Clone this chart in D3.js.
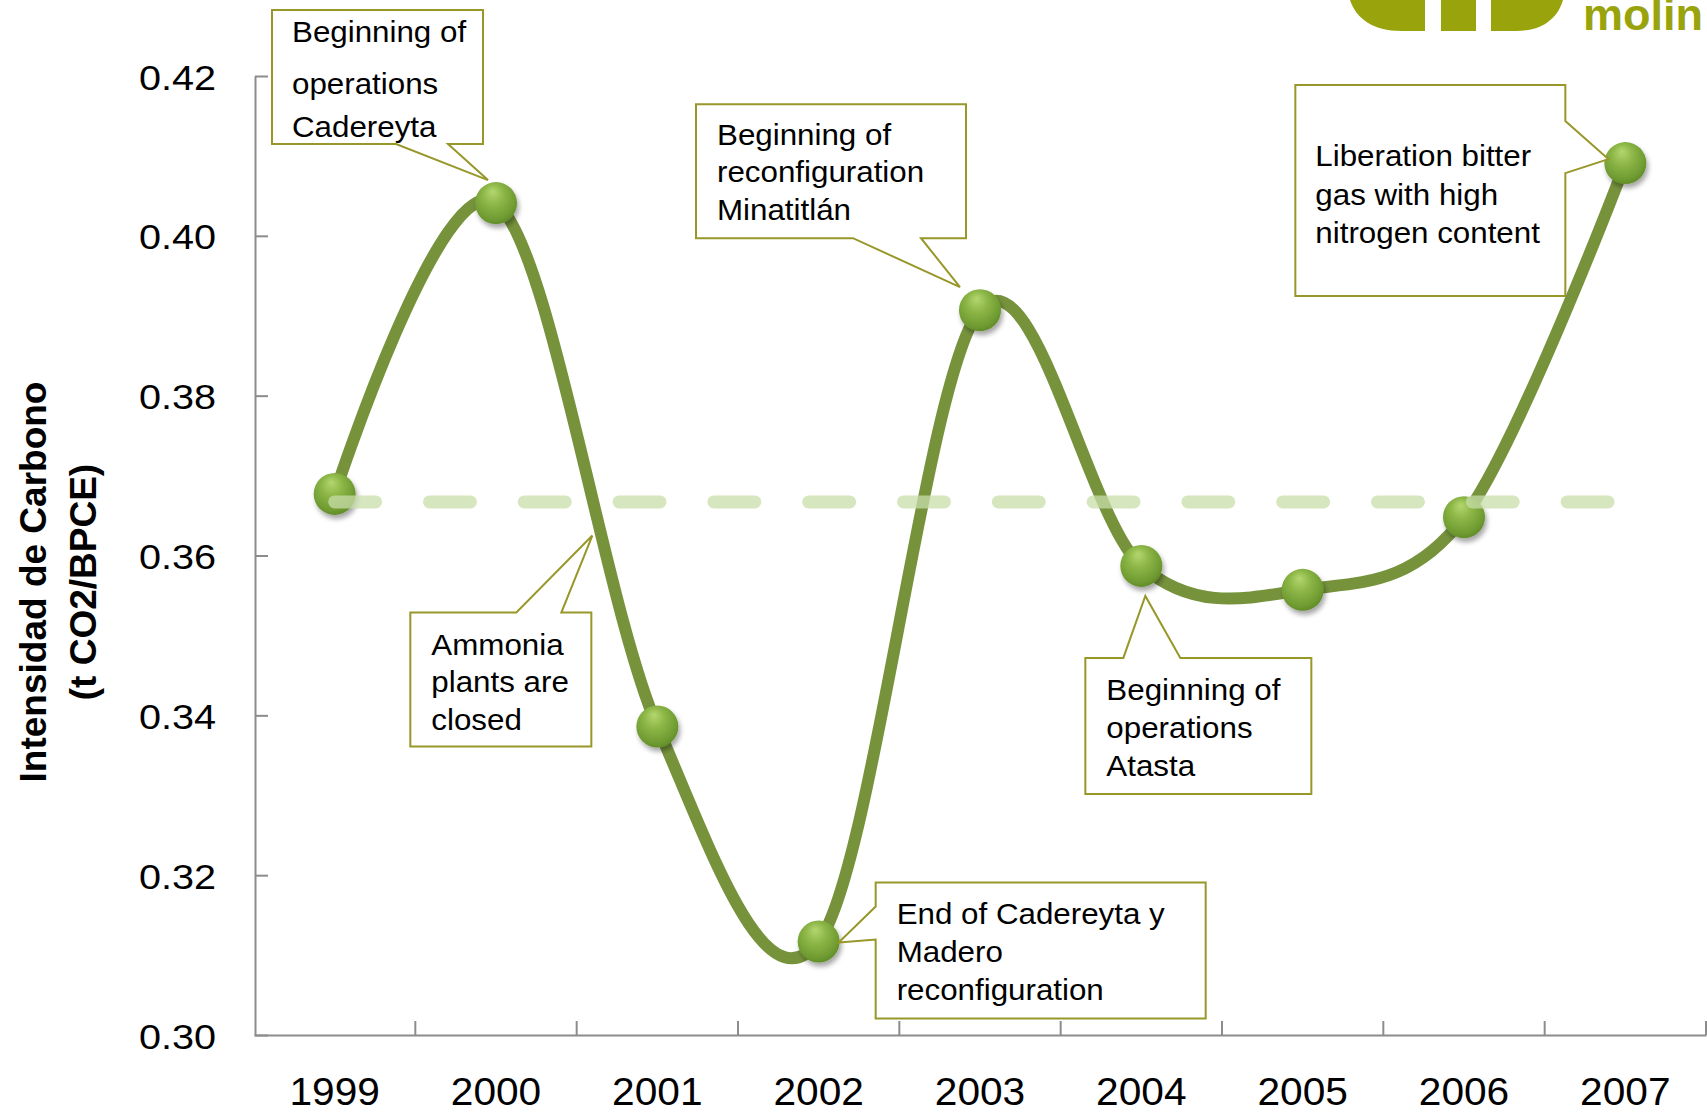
<!DOCTYPE html>
<html>
<head>
<meta charset="utf-8">
<script src="https://cdn.jsdelivr.net/npm/d3@7"></script>
<style>
  html, body { margin: 0; padding: 0; background: #ffffff; }
  svg { display: block; }
  text { font-family: "Liberation Sans", Arial, sans-serif; }
</style>
</head>
<body>
<svg id="chart" width="1707" height="1112"></svg>
<script>
// ---------------- DATA ----------------
const years = ["1999", "2000", "2001", "2002", "2003", "2004", "2005", "2006", "2007"];
const intensity = [0.3677, 0.4041, 0.3386, 0.3117, 0.3907, 0.3587, 0.3557, 0.3648, 0.4091];
const averageIntensity = 0.3667;
const yTicks = [0.30, 0.32, 0.34, 0.36, 0.38, 0.40, 0.42];
const yTitleLines = ["Intensidad de Carbono", "(t CO2/BPCE)"];
const logoText = "molin";

const noteYears = ["2000", "2003", "2001", "2004", "2002", "2007"];
const noteTexts = [
  ["Beginning of", "operations", "Cadereyta"],
  ["Beginning of", "reconfiguration", "Minatitlán"],
  ["Ammonia", "plants are", "closed"],
  ["Beginning of", "operations", "Atasta"],
  ["End of Cadereyta y", "Madero", "reconfiguration"],
  ["Liberation bitter", "gas with high", "nitrogen content"]
];

// ---------------- LAYOUT ----------------
const W = 1707, H = 1112;
const svg = d3.select("#chart");
const x = d3.scaleBand().domain(years).range([254, 1706]).padding(0);
const y = d3.scaleLinear().domain([0.30, 0.42]).range([1035, 76]);
const cx = d => x(d) + x.bandwidth() / 2;

const LINE = "#76933c", AXIS = "#8c8c8c", BORDER = "#97972a", OLIVE = "#99a30c";

// helper: horizontally stretched text
function sText(g, str, tx, ty, size, opts = {}) {
  const sx = opts.sx || 1.06;
  return g.append("text")
    .attr("transform", `translate(${tx},${ty}) scale(${sx},1)`)
    .attr("font-size", size)
    .attr("font-weight", opts.bold ? "bold" : "normal")
    .attr("text-anchor", opts.anchor || "start")
    .attr("fill", opts.fill || "#000")
    .text(str);
}

const defs = svg.append("defs");
const grad = defs.append("radialGradient").attr("id", "mk")
  .attr("cx", "0.45").attr("cy", "0.4").attr("r", "0.62").attr("fx", "0.42").attr("fy", "0.22");
grad.append("stop").attr("offset", "0%").attr("stop-color", "#b4d770");
grad.append("stop").attr("offset", "40%").attr("stop-color", "#8db747");
grad.append("stop").attr("offset", "85%").attr("stop-color", "#6e9a31");
grad.append("stop").attr("offset", "100%").attr("stop-color", "#5f8a28");
const filt = defs.append("filter").attr("id", "sh").attr("x", "-50%").attr("y", "-50%").attr("width", "200%").attr("height", "200%");
filt.append("feDropShadow").attr("dx", 2).attr("dy", 4).attr("stdDeviation", 2.5)
  .attr("flood-color", "#000").attr("flood-opacity", 0.35);

// ---------------- LOGO (top right, cropped) ----------------
const logo = svg.append("g");
logo.append("path")
  .attr("d", "M1350,0 C1356,18 1372,31 1402,31 L1516,31 C1544,31 1558,17 1563,0 Z")
  .attr("fill", OLIVE);
logo.append("rect").attr("x", 1425).attr("y", 0).attr("width", 16).attr("height", 33).attr("fill", "#fff");
logo.append("rect").attr("x", 1476).attr("y", 0).attr("width", 15).attr("height", 33).attr("fill", "#fff");
sText(logo, logoText, 1583, 30, 45, { bold: true, fill: OLIVE, sx: 1.0 });

// ---------------- AXES ----------------
const yAxisG = svg.append("g").attr("transform", "translate(255,0)")
  .call(d3.axisLeft(y).tickValues(yTicks).tickSizeInner(-13).tickSizeOuter(0).tickPadding(0).tickFormat(d3.format(".2f")));
yAxisG.select(".domain").attr("stroke", AXIS).attr("stroke-width", 2);
yAxisG.selectAll(".tick line").attr("stroke", AXIS).attr("stroke-width", 2);
yAxisG.selectAll(".tick text").remove();
yAxisG.selectAll(".tick").each(function (d) {
  sText(d3.select(this), d3.format(".2f")(d), -39, 13, 36, { anchor: "end", sx: 1.1 });
});

const xAxisG = svg.append("g").attr("transform", "translate(0,1035)")
  .call(d3.axisBottom(x).tickSize(0).tickSizeOuter(0).tickFormat(""));
xAxisG.select(".domain").attr("stroke", AXIS).attr("stroke-width", 2);
xAxisG.selectAll(".tick").each(function (d) {
  const g = d3.select(this);
  g.select("text").remove();
  sText(g, d, 0, 70, 38, { anchor: "middle", sx: 1.07 });
  g.append("line").attr("x1", x.bandwidth() / 2).attr("x2", x.bandwidth() / 2)
    .attr("y1", 0).attr("y2", -14).attr("stroke", AXIS).attr("stroke-width", 2);
});

// y title
const yt = svg.append("g").attr("transform", "translate(0,582) rotate(-90)");
yt.append("text").attr("x", 0).attr("y", 46).attr("text-anchor", "middle")
  .attr("font-size", 37).attr("font-weight", "bold").text(yTitleLines[0]);
yt.append("text").attr("x", 0).attr("y", 96).attr("text-anchor", "middle")
  .attr("font-size", 37).attr("font-weight", "bold").text(yTitleLines[1]);

// ---------------- SERIES ----------------
const pts = years.map((yr, i) => ({ year: yr, v: intensity[i] }));
const line = d3.line().x(d => cx(d.year)).y(d => y(d.v)).curve(d3.curveCatmullRom.alpha(0));

svg.append("path").datum(pts).attr("d", line)
  .attr("fill", "none").attr("stroke", LINE).attr("stroke-width", 12)
  .attr("stroke-linecap", "round").attr("stroke-linejoin", "round");

svg.append("g").selectAll("circle").data(pts).join("circle")
  .attr("cx", d => cx(d.year)).attr("cy", d => y(d.v)).attr("r", 21)
  .attr("fill", "url(#mk)").attr("filter", "url(#sh)");

// average dashed line (drawn on top, translucent)
const avgLine = d3.line().x(d => cx(d)).y(() => y(averageIntensity));
svg.append("path").datum([years[0], years[years.length - 1]]).attr("d", avgLine)
  .attr("fill", "none").attr("stroke", "#c8ddaa").attr("stroke-opacity", 0.75)
  .attr("stroke-width", 13).attr("stroke-linecap", "round")
  .attr("stroke-dasharray", "41 53.8");

// ---------------- CALLOUTS ----------------
// geometry relative to the anchor data point: box [l,t,r,b], wedge side, base pair, tip offset, text left, baselines
const noteLayout = [
  { box: [-224, -193, -13, -59], side: "bottom", base: [-100, -48], tip: [-8, -23], tx: -204, ty: [-161, -109, -66] },
  { box: [-284, -206, -14, -72], side: "bottom", base: [-127, -59], tip: [-20, -23], tx: -263, ty: [-165, -128, -90] },
  { box: [-247, -114, -66, 20], side: "top", base: [-141, -96], tip: [-65, -191], tx: -226, ty: [-72, -35, 3] },
  { box: [-56, 92, 170, 228], side: "top", base: [-18, 39], tip: [4, 30], tx: -35, ty: [134, 172, 210] },
  { box: [57, -59, 387, 77], side: "left", base: [-35, -2], tip: [20, 1], tx: 78, ty: [-17, 21, 59] },
  { box: [-330, -78, -60, 133], side: "right", base: [-42, 10], tip: [-17, -4], tx: -310, ty: [3, 42, 80] }
];

function calloutPath(px, py, L) {
  const [l, t, r, b] = L.box.map((v, i) => (i % 2 === 0 ? px + v : py + v));
  const tx = px + L.tip[0], ty = py + L.tip[1];
  const p = d3.path();
  if (L.side === "bottom") {
    const b1 = px + L.base[0], b2 = px + L.base[1];
    p.moveTo(l, t); p.lineTo(r, t); p.lineTo(r, b); p.lineTo(b2, b); p.lineTo(tx, ty); p.lineTo(b1, b); p.lineTo(l, b);
  } else if (L.side === "top") {
    const b1 = px + L.base[0], b2 = px + L.base[1];
    p.moveTo(l, t); p.lineTo(b1, t); p.lineTo(tx, ty); p.lineTo(b2, t); p.lineTo(r, t); p.lineTo(r, b); p.lineTo(l, b);
  } else if (L.side === "left") {
    const b1 = py + L.base[0], b2 = py + L.base[1];
    p.moveTo(l, t); p.lineTo(r, t); p.lineTo(r, b); p.lineTo(l, b); p.lineTo(l, b2); p.lineTo(tx, ty); p.lineTo(l, b1);
  } else {
    const b1 = py + L.base[0], b2 = py + L.base[1];
    p.moveTo(l, t); p.lineTo(r, t); p.lineTo(r, b1); p.lineTo(tx, ty); p.lineTo(r, b2); p.lineTo(r, b); p.lineTo(l, b);
  }
  p.closePath();
  return p.toString();
}

const notesG = svg.append("g");
noteYears.forEach((yr, i) => {
  const idx = years.indexOf(yr);
  const px = cx(yr), py = y(intensity[idx]);
  const L = noteLayout[i];
  const g = notesG.append("g");
  g.append("path").attr("d", calloutPath(px, py, L))
    .attr("fill", "#fff").attr("stroke", BORDER).attr("stroke-width", 2).attr("stroke-linejoin", "miter");
  noteTexts[i].forEach((s, j) => {
    sText(g, s, px + L.tx, py + L.ty[j], 29, { sx: 1.08 });
  });
});
</script>
</body>
</html>
